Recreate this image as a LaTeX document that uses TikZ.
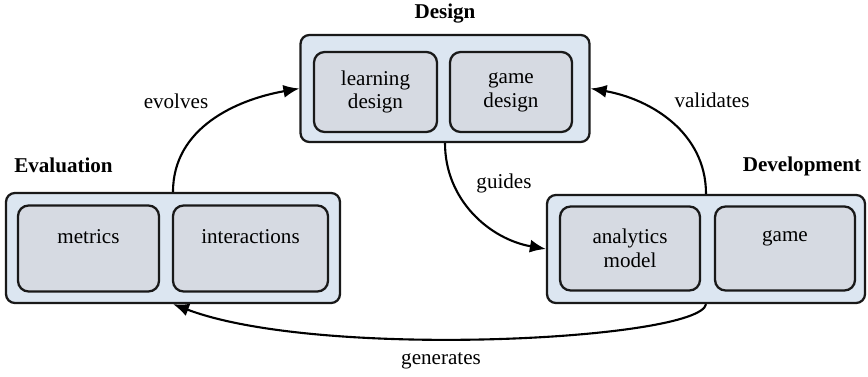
\documentclass[tikz,border=0pt]{standalone}
\usepackage{fontspec}
\setmainfont{Liberation Serif}
\usetikzlibrary{arrows.meta}
\definecolor{phasefill}{RGB}{220,230,241}
\definecolor{partfill}{RGB}{214,218,226}

\begin{document}
\begin{tikzpicture}[x=0.02cm,y=-0.02cm,
    outer/.style={draw=black!90,line width=1.3pt,rounded corners=5pt,fill=phasefill,inner sep=0pt},
    part/.style={draw=black!90,line width=1.3pt,rounded corners=6pt,fill=partfill,inner sep=0pt,
        align=center,font=\fontsize{12}{13.6}\selectfont},
    phase/.style={font=\bfseries\fontsize{12}{14}\selectfont},
    verb/.style={font=\fontsize{12}{14}\selectfont},
    flow/.style={line width=1.2pt,-{Latex[length=3.2mm,width=2.6mm]}}]
    \useasboundingbox (0,0) rectangle (868,377);
    % the three phases
    \node[outer,minimum width=5.78cm,minimum height=2.14cm] (design) at (445,88.5) {};
    \node[part,minimum width=2.46cm,minimum height=1.6cm] (learning) at (375.5,92) {learning\\design};
    \node[part,minimum width=2.44cm,minimum height=1.6cm] (gamedesign) at (511,92) {game\\design};
    \node[phase] (designlabel) at (445,14) {Design};

    \node[outer,minimum width=6.68cm,minimum height=2.2cm] (evaluation) at (173,248) {};
    \node[part,minimum width=2.82cm,minimum height=1.72cm] (metrics) at (88.5,248.5) {metrics\\~};
    \node[part,minimum width=3.1cm,minimum height=1.72cm] (interactions) at (250.5,248.5) {interactions\\~};
    \node[phase] (evallabel) at (63.5,165) {Evaluation};

    \node[outer,minimum width=6.36cm,minimum height=2.16cm] (development) at (706,249) {};
    \node[part,minimum width=2.8cm,minimum height=1.68cm] (analytics) at (630,248.5) {analytics\\model};
    \node[part,minimum width=2.8cm,minimum height=1.68cm] (game) at (785,248.5) {game\\~};
    \node[phase] (devlabel) at (802,166) {Development};

    % the cycle between them
    \draw[flow] (evaluation.north) to[out=90,in=190] (design.west);
    \draw[flow] (development.north) to[out=90,in=-10] (design.east);
    \draw[flow] (design.south) to[out=-90,in=170] (development.west);
    \draw[flow] (development.south) .. controls (700,340) and (320,360) .. (evaluation.south);
    \node[verb] (evolves) at (176,101) {evolves};
    \node[verb] (validates) at (712,100) {validates};
    \node[verb] (guides) at (504,183) {guides};
    \node[verb] (generates) at (441,361) {generates};
\end{tikzpicture}
\end{document}
